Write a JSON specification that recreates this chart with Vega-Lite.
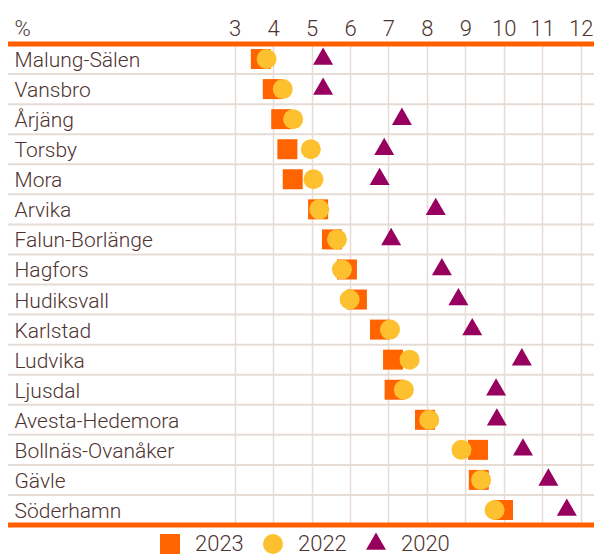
{
  "$schema": "https://vega.github.io/schema/vega-lite/v6.json",
  "width": 586,
  "height": 481,
  "autosize": {"type": "none"},
  "padding": {"left": 8, "top": 44, "right": 0, "bottom": 29},
  "background": "white",
  "config": {
    "view": {"stroke": null},
    "font": "Roboto",
    "axis": {"labelFont": "Roboto", "titleFont": "Roboto", "labelFontWeight": 300, "titleFontWeight": 300},
    "legend": {"labelFont": "Roboto", "labelFontWeight": 300}
  },
  "data": {
    "values": [
      {"name": "Malung-Sälen", "year": "2023", "value": 3.68},
      {"name": "Vansbro", "year": "2023", "value": 3.99},
      {"name": "Årjäng", "year": "2023", "value": 4.21},
      {"name": "Torsby", "year": "2023", "value": 4.37},
      {"name": "Mora", "year": "2023", "value": 4.51},
      {"name": "Arvika", "year": "2023", "value": 5.17},
      {"name": "Falun-Borlänge", "year": "2023", "value": 5.53},
      {"name": "Hagfors", "year": "2023", "value": 5.92},
      {"name": "Hudiksvall", "year": "2023", "value": 6.18},
      {"name": "Karlstad", "year": "2023", "value": 6.78},
      {"name": "Ludvika", "year": "2023", "value": 7.12},
      {"name": "Ljusdal", "year": "2023", "value": 7.16},
      {"name": "Avesta-Hedemora", "year": "2023", "value": 7.95},
      {"name": "Bollnäs-Ovanåker", "year": "2023", "value": 9.33},
      {"name": "Gävle", "year": "2023", "value": 9.35},
      {"name": "Söderhamn", "year": "2023", "value": 9.98},
      {"name": "Malung-Sälen", "year": "2022", "value": 3.83},
      {"name": "Vansbro", "year": "2022", "value": 4.25},
      {"name": "Årjäng", "year": "2022", "value": 4.52},
      {"name": "Torsby", "year": "2022", "value": 4.98},
      {"name": "Mora", "year": "2022", "value": 5.05},
      {"name": "Arvika", "year": "2022", "value": 5.20},
      {"name": "Falun-Borlänge", "year": "2022", "value": 5.66},
      {"name": "Hagfors", "year": "2022", "value": 5.79},
      {"name": "Hudiksvall", "year": "2022", "value": 5.99},
      {"name": "Karlstad", "year": "2022", "value": 7.04},
      {"name": "Ludvika", "year": "2022", "value": 7.55},
      {"name": "Ljusdal", "year": "2022", "value": 7.40},
      {"name": "Avesta-Hedemora", "year": "2022", "value": 8.06},
      {"name": "Bollnäs-Ovanåker", "year": "2022", "value": 8.90},
      {"name": "Gävle", "year": "2022", "value": 9.41},
      {"name": "Söderhamn", "year": "2022", "value": 9.76},
      {"name": "Malung-Sälen", "year": "2020", "value": 5.30},
      {"name": "Vansbro", "year": "2020", "value": 5.30},
      {"name": "Årjäng", "year": "2020", "value": 7.35},
      {"name": "Torsby", "year": "2020", "value": 6.89},
      {"name": "Mora", "year": "2020", "value": 6.77},
      {"name": "Arvika", "year": "2020", "value": 8.23},
      {"name": "Falun-Borlänge", "year": "2020", "value": 7.07},
      {"name": "Hagfors", "year": "2020", "value": 8.39},
      {"name": "Hudiksvall", "year": "2020", "value": 8.82},
      {"name": "Karlstad", "year": "2020", "value": 9.18},
      {"name": "Ludvika", "year": "2020", "value": 10.47},
      {"name": "Ljusdal", "year": "2020", "value": 9.80},
      {"name": "Avesta-Hedemora", "year": "2020", "value": 9.82},
      {"name": "Bollnäs-Ovanåker", "year": "2020", "value": 10.50},
      {"name": "Gävle", "year": "2020", "value": 11.16},
      {"name": "Söderhamn", "year": "2020", "value": 11.64}
    ]
  },
  "layer": [
    {
      "transform": [
        {"filter": "datum.year === '2023' && datum.name !== 'Malung-Sälen'"}
      ],
      "mark": {"type": "rule", "color": "#e6dcd6", "strokeWidth": 2},
      "encoding": {
        "y": {
          "field": "name",
          "type": "nominal",
          "bandPosition": 0,
          "sort": ["Malung-Sälen", "Vansbro", "Årjäng", "Torsby", "Mora", "Arvika", "Falun-Borlänge", "Hagfors", "Hudiksvall", "Karlstad", "Ludvika", "Ljusdal", "Avesta-Hedemora", "Bollnäs-Ovanåker", "Gävle", "Söderhamn"],
          "scale": {"type": "band", "paddingInner": 0, "paddingOuter": 0},
          "axis": {
            "title": null,
            "domain": false,
            "ticks": false,
            "grid": false,
            "labelAlign": "left",
            "labelBaseline": "alphabetic",
            "labelOffset": 8,
            "labelPadding": -6,
            "labelFontSize": 21,
            "labelColor": "#4e3330",
            "labelLimit": 400
          }
        }
      }
    },
    {
      "transform": [
        {"filter": "datum.year === '2023' && datum.name === 'Malung-Sälen'"}
      ],
      "mark": {"type": "rule", "color": "#ff5f00", "strokeWidth": 5},
      "encoding": {
        "y": {"field": "name", "type": "nominal", "bandPosition": 0, "sort": ["Malung-Sälen", "Vansbro", "Årjäng", "Torsby", "Mora", "Arvika", "Falun-Borlänge", "Hagfors", "Hudiksvall", "Karlstad", "Ludvika", "Ljusdal", "Avesta-Hedemora", "Bollnäs-Ovanåker", "Gävle", "Söderhamn"]}
      }
    },
    {
      "transform": [
        {"filter": "datum.year === '2023' && datum.name === 'Söderhamn'"}
      ],
      "mark": {"type": "rule", "color": "#ff5f00", "strokeWidth": 5},
      "encoding": {
        "y": {"field": "name", "type": "nominal", "bandPosition": 1, "sort": ["Malung-Sälen", "Vansbro", "Årjäng", "Torsby", "Mora", "Arvika", "Falun-Borlänge", "Hagfors", "Hudiksvall", "Karlstad", "Ludvika", "Ljusdal", "Avesta-Hedemora", "Bollnäs-Ovanåker", "Gävle", "Söderhamn"]}
      }
    },
    {
      "mark": {"type": "point", "filled": true, "opacity": 1, "size": 400, "strokeWidth": 0},
      "encoding": {
        "x": {
          "field": "value",
          "type": "quantitative",
          "scale": {"domain": [-2.897, 12.347], "nice": false, "zero": false},
          "axis": {
            "orient": "top",
            "values": [3, 4, 5, 6, 7, 8, 9, 10, 11, 12],
            "format": "d",
            "domain": false,
            "ticks": false,
            "grid": true,
            "gridColor": "#e6dcd6",
            "gridWidth": 1.5,
            "labelFontSize": 22,
            "labelColor": "#4e3330",
            "labelPadding": 9,
            "labelBaseline": "alphabetic",
            "title": "%",
            "titleFontSize": 22,
            "titleColor": "#4e3330",
            "titleAlign": "left",
            "titleAnchor": "start",
            "titleBaseline": "alphabetic",
            "titleX": 6,
            "titleY": -9
          }
        },
        "y": {
          "field": "name",
          "type": "nominal",
          "sort": ["Malung-Sälen", "Vansbro", "Årjäng", "Torsby", "Mora", "Arvika", "Falun-Borlänge", "Hagfors", "Hudiksvall", "Karlstad", "Ludvika", "Ljusdal", "Avesta-Hedemora", "Bollnäs-Ovanåker", "Gävle", "Söderhamn"]
        },
        "color": {
          "field": "year",
          "type": "nominal",
          "scale": {"domain": ["2023", "2022", "2020"], "range": ["#ff6400", "#fdc02f", "#98005f"]},
          "legend": {
            "title": null,
            "orient": "none",
            "legendX": 151,
            "legendY": 489,
            "direction": "horizontal",
            "symbolSize": 400,
            "symbolStrokeWidth": 0,
            "labelFontSize": 22,
            "labelColor": "#4e3330",
            "labelOffset": 14,
            "columnPadding": 18
          }
        },
        "shape": {
          "field": "year",
          "type": "nominal",
          "scale": {"domain": ["2023", "2022", "2020"], "range": ["square", "circle", "M0,-1.155L1,0.577L-1,0.577Z"]}
        }
      }
    }
  ]
}
